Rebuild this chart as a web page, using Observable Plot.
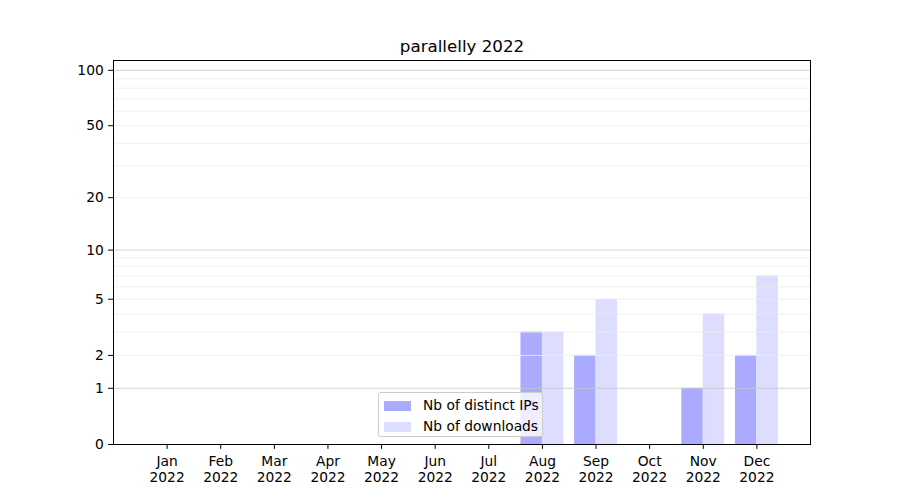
<!DOCTYPE html>
<html>
<head>
<meta charset="utf-8">
<script src="https://cdn.jsdelivr.net/npm/d3@7"></script>
<script src="https://cdn.jsdelivr.net/npm/@observablehq/plot@0.6"></script>
<style>
  html, body { margin: 0; padding: 0; background: white; }
  #wrap { position: relative; width: 900px; height: 500px; font-family: "DejaVu Sans", sans-serif; }
  #legend { position: absolute; left: 378px; top: 392px; width: 165px; height: 45px;
    background: rgba(255,255,255,0.8); border: 1px solid #cccccc; border-radius: 3px; box-sizing: border-box; }
  .item { position: absolute; left: 5px; font-size: 13.8px; line-height: 16px; color: black; white-space: nowrap; }
  .sw { position: absolute; left: 0; top: 2px; width: 27px; height: 10px; }
  .lbl { position: absolute; left: 39px; top: -2px; }
</style>
</head>
<body>
<div id="wrap"></div>
<script>
const title = "parallelly 2022";
const months = ["Jan","Feb","Mar","Apr","May","Jun","Jul","Aug","Sep","Oct","Nov","Dec"];
const year = "2022";
const distinctIPs = [0,0,0,0,0,0,0,3,2,0,1,2];
const downloads = [0,0,0,0,0,0,0,3,5,0,4,7];
const seriesNames = ["Nb of distinct IPs", "Nb of downloads"];
const seriesColors = ["#aaaaff", "#ddddff"];
const yTicks = [0,1,2,5,10,20,50,100];
const yMajorGrid = [1,10,100];
const yMinorGrid = [2,3,4,5,6,7,8,9,20,30,40,50,60,70,80,90];

const data = months.map((m, i) => ({i, m, ips: distinctIPs[i], dl: downloads[i]}));

const chart = Plot.plot({
  width: 900,
  height: 500,
  marginLeft: 113,
  marginRight: 90,
  marginTop: 60,
  marginBottom: 56,
  style: {fontFamily: "DejaVu Sans", fontSize: "13.5px", color: "black", background: "white", overflow: "visible"},
  x: {type: "linear", domain: [-1, 12]},
  y: {type: "symlog", domain: [0, 113]},
  marks: [
    Plot.rect(data, {x1: d => d.i - 0.4, x2: d => d.i, y1: 0, y2: "ips", fill: seriesColors[0]}),
    Plot.rect(data, {x1: d => d.i, x2: d => d.i + 0.4, y1: 0, y2: "dl", fill: seriesColors[1]}),
    Plot.ruleY(yMinorGrid, {stroke: "#ececec", strokeWidth: 0.8}),
    Plot.ruleY(yMajorGrid, {stroke: "#c8c8c8", strokeWidth: 0.8}),
    Plot.frame({stroke: "black", strokeWidth: 1}),
    Plot.axisY(yTicks, {tickSize: 4.9, tickPadding: 4.9, tickFormat: d => String(d), label: null, fontSize: 13.8}),
    Plot.axisX(d3.range(12), {tickSize: 4.9, tickPadding: 5, tickFormat: i => months[i] + "\n" + year, label: null, lineHeight: 1.18, fontSize: 13.8}),
    Plot.text([title], {frameAnchor: "top", lineAnchor: "middle", dy: -14, fontSize: 16.7, fill: "black"})
  ]
});

const wrap = document.getElementById("wrap");
wrap.appendChild(chart);
const legend = document.createElement("div");
legend.id = "legend";
seriesNames.forEach((name, k) => {
  const it = document.createElement("div");
  it.className = "item";
  it.style.top = (6 + k * 21) + "px";
  it.innerHTML = `<div class="sw" style="background:${seriesColors[k]}"></div><div class="lbl">${name}</div>`;
  legend.appendChild(it);
});
wrap.appendChild(legend);
</script>
</body>
</html>
